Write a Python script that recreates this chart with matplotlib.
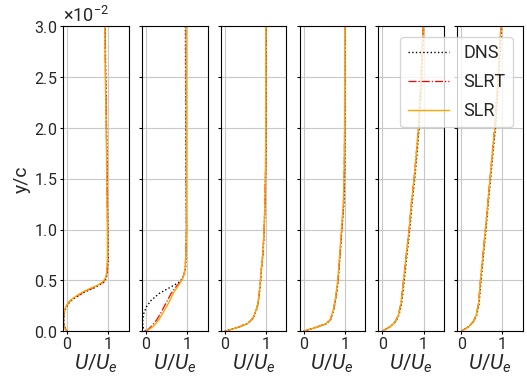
import numpy as np
import matplotlib
matplotlib.use("Agg")
import matplotlib.pyplot as plt

plt.rcParams['font.family'] = ['Roboto', 'DejaVu Sans']
plt.rcParams['font.weight'] = 'normal'
plt.rcParams['axes.labelweight'] = 'normal'
plt.rcParams['text.color'] = '#262626'
plt.rcParams['axes.labelcolor'] = '#262626'
plt.rcParams['xtick.labelcolor'] = '#262626'
plt.rcParams['ytick.labelcolor'] = '#262626'
plt.rcParams['ytick.labelsize'] = 11.5
plt.rcParams['xtick.labelsize'] = 11.5
plt.rcParams['mathtext.fontset'] = 'custom'
plt.rcParams['mathtext.rm'] = 'Roboto'
plt.rcParams['mathtext.it'] = 'Roboto:italic'
plt.rcParams['mathtext.bf'] = 'Roboto:bold'

# wall-normal stations, y/c in units of 1e-2
y1 = np.array([0.0, 0.03, 0.06, 0.10, 0.14, 0.19, 0.24, 0.29, 0.32, 0.35, 0.39,
               0.42, 0.45, 0.48, 0.52, 0.57, 0.70, 1.0, 1.5, 2.0, 2.5, 3.0])
dns1 = [0.0, -0.05, -0.073, -0.079, -0.078, -0.065, -0.016, 0.065, 0.16, 0.29, 0.45,
        0.63, 0.77, 0.89, 0.95, 0.976, 0.995, 0.99, 0.975, 0.96, 0.94, 0.925]
slrt1 = [0.0, -0.055, -0.077, -0.085, -0.082, -0.068, -0.025, 0.055, 0.14, 0.26, 0.42,
         0.59, 0.75, 0.87, 0.94, 0.968, 0.985, 0.985, 0.97, 0.955, 0.935, 0.92]
slr1 = [0.0, -0.06, -0.08, -0.09, -0.085, -0.07, -0.03, 0.05, 0.13, 0.24, 0.40,
        0.56, 0.73, 0.855, 0.93, 0.96, 0.98, 0.98, 0.965, 0.95, 0.93, 0.915]

y2 = np.array([0.0, 0.01, 0.026, 0.06, 0.11, 0.17, 0.24, 0.30, 0.37, 0.42, 0.45,
               0.48, 0.50, 0.52, 0.565, 0.63, 0.8, 1.0, 1.5, 2.0, 2.5, 3.0])
dns2 = [0.0, -0.03, -0.06, -0.078, -0.077, -0.055, 0.012, 0.12, 0.32, 0.54, 0.675,
        0.80, 0.85, 0.89, 0.935, 0.965, 0.975, 0.985, 0.975, 0.97, 0.965, 0.96]
slrt2 = [0.0, 0.035, 0.08, 0.16, 0.26, 0.35, 0.44, 0.52, 0.61, 0.70, 0.76,
         0.83, 0.865, 0.89, 0.93, 0.955, 0.975, 0.985, 0.98, 0.98, 0.975, 0.975]
slr2 = [0.0, 0.05, 0.11, 0.21, 0.31, 0.40, 0.50, 0.58, 0.66, 0.74, 0.79,
        0.84, 0.87, 0.895, 0.93, 0.955, 0.975, 0.985, 0.985, 0.985, 0.98, 0.98]

y3 = np.array([0.0, 0.016, 0.043, 0.076, 0.125, 0.21, 0.27, 0.44, 0.6, 0.77,
               1.0, 1.26, 1.6, 2.0, 2.5, 3.0])
dns3 = [0.0, 0.15, 0.355, 0.56, 0.686, 0.77, 0.81, 0.86, 0.89, 0.93,
        0.96, 0.98, 0.995, 1.0, 1.0, 1.0]
slrt3 = [0.0, 0.155, 0.358, 0.557, 0.683, 0.767, 0.807, 0.857, 0.887, 0.927,
         0.957, 0.977, 0.992, 0.997, 0.997, 0.997]
slr3 = [0.0, 0.16, 0.36, 0.555, 0.68, 0.765, 0.805, 0.855, 0.885, 0.925,
        0.955, 0.975, 0.99, 0.995, 0.995, 0.995]

y4 = np.array([0.0, 0.036, 0.069, 0.108, 0.207, 0.34, 0.5, 0.77, 1.0, 1.26,
               1.59, 2.0, 2.5, 3.0])
dns4 = [0.0, 0.285, 0.53, 0.65, 0.73, 0.79, 0.84, 0.89, 0.93, 0.98,
        1.0, 1.0, 1.0, 1.0]
slrt4 = [0.0, 0.29, 0.528, 0.645, 0.725, 0.785, 0.835, 0.885, 0.925, 0.97,
         0.99, 0.997, 0.998, 0.998]
slr4 = [0.0, 0.295, 0.525, 0.64, 0.72, 0.78, 0.83, 0.88, 0.92, 0.965,
        0.985, 0.995, 0.997, 0.997]

y5 = np.array([0.0, 0.043, 0.092, 0.158, 0.27, 0.5, 0.77, 1.0, 1.26, 1.5,
               1.75, 2.0, 2.5, 3.0])
dns5 = [0.0, 0.184, 0.32, 0.40, 0.464, 0.53, 0.60, 0.664, 0.72, 0.784,
        0.84, 0.89, 0.955, 1.0]
slrt5 = [0.0, 0.185, 0.31, 0.385, 0.448, 0.512, 0.583, 0.648, 0.703, 0.768,
         0.823, 0.873, 0.938, 0.988]
slr5 = [0.0, 0.19, 0.315, 0.39, 0.45, 0.515, 0.585, 0.65, 0.705, 0.77,
        0.825, 0.875, 0.94, 0.99]

y6 = y5
dns6 = [0.0, 0.176, 0.296, 0.376, 0.432, 0.48, 0.544, 0.60, 0.656, 0.712,
        0.768, 0.83, 0.91, 0.98]
slrt6 = [0.0, 0.178, 0.288, 0.362, 0.418, 0.466, 0.53, 0.586, 0.643, 0.698,
         0.753, 0.813, 0.893, 0.963]
slr6 = [0.0, 0.18, 0.29, 0.365, 0.42, 0.468, 0.532, 0.588, 0.645, 0.70,
        0.755, 0.815, 0.895, 0.965]

stations = [
    (y1, dns1, slrt1, slr1),
    (y2, dns2, slrt2, slr2),
    (y3, dns3, slrt3, slr3),
    (y4, dns4, slrt4, slr4),
    (y5, dns5, slrt5, slr5),
    (y6, dns6, slrt6, slr6),
]

fig, axes = plt.subplots(1, 6, sharey=True, figsize=(5.27, 3.78), dpi=100)
fig.subplots_adjust(left=0.1195, right=0.9924, bottom=0.124, top=0.93, wspace=0.198)

for ax, (y, dns, slrt, slr) in zip(axes, stations):
    yc = y * 1e-2
    ax.plot(dns, yc, color='k', ls=':', lw=1.0, label='DNS')
    ax.plot(slrt, yc, color='red', ls='-.', lw=0.9, label='SLRT')
    ax.plot(slr, yc, color='orange', ls='-', lw=1.0, label='SLR')
    ax.set_xlim(-0.1, 1.5)
    ax.set_ylim(0, 0.03)
    ax.set_xticks([0, 1])
    ax.grid(True, color='#c8c8c8', lw=0.8)
    ax.tick_params(length=2, pad=2)
    ax.set_xlabel('$U/U_e$', fontsize=15, labelpad=1)

axes[0].ticklabel_format(axis='y', style='sci', scilimits=(0, 0), useMathText=True)
axes[0].yaxis.get_offset_text().set_fontsize(13)
axes[0].set_ylabel('y/c', fontsize=14, labelpad=2)

axes[-1].legend(loc='upper right', bbox_to_anchor=(513 / 527, 1 - 37 / 378),
                bbox_transform=fig.transFigure, borderaxespad=0,
                fontsize=13, handlelength=2.3, labelspacing=0.6)

fig.savefig('out.png', dpi=100)
